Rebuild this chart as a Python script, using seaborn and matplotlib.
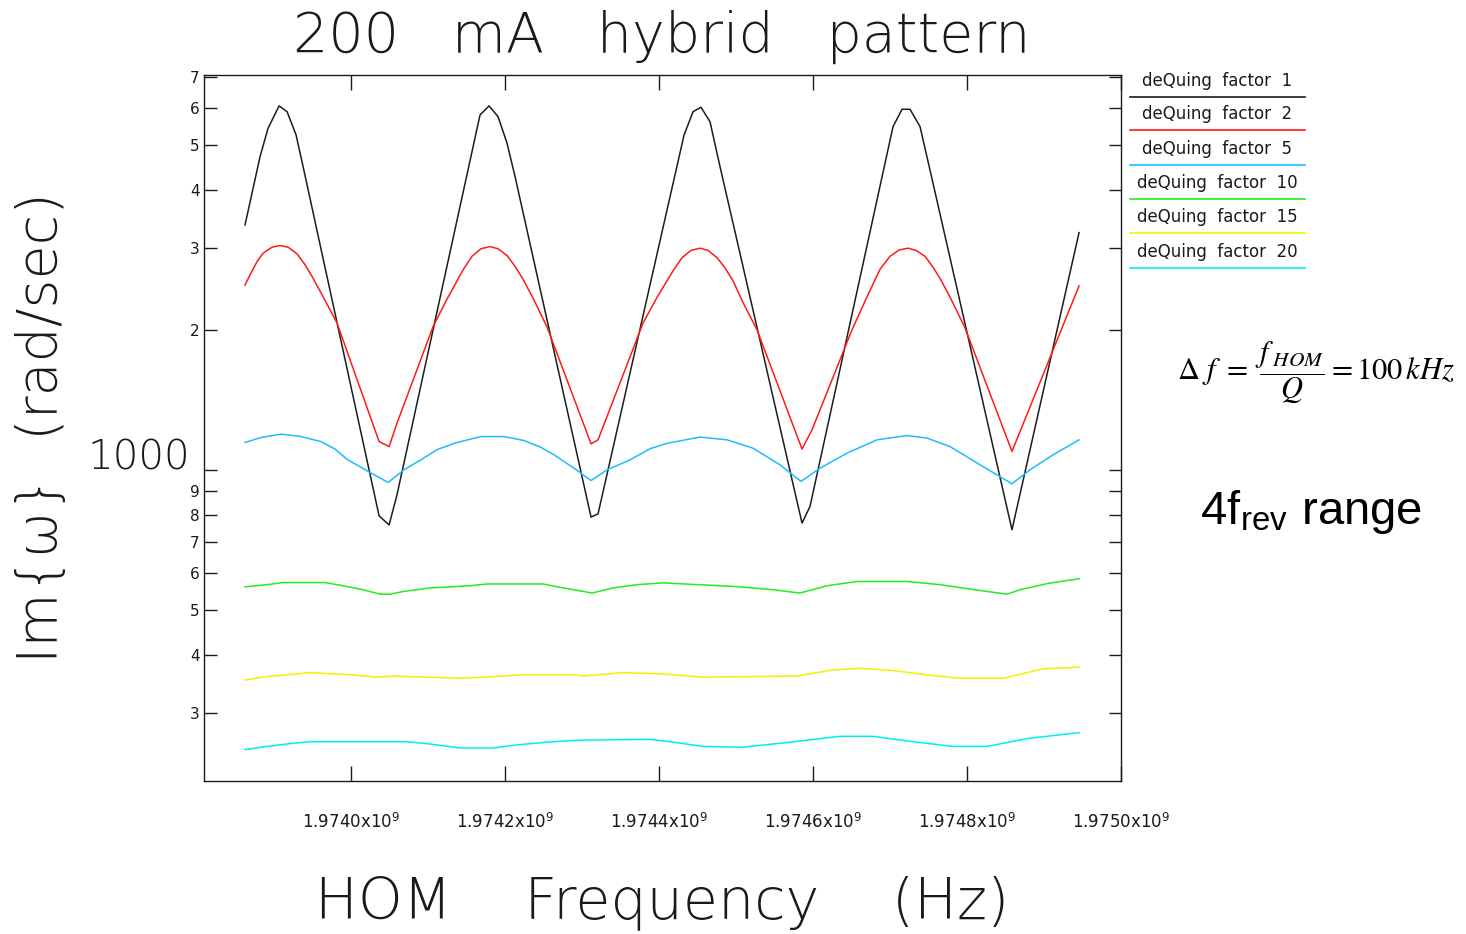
import numpy as np
import pandas as pd
import matplotlib
matplotlib.use("Agg")
import matplotlib.pyplot as plt
import matplotlib.transforms as mtransforms
from matplotlib.lines import Line2D
from matplotlib.ticker import NullLocator, FixedLocator, FixedFormatter
import seaborn as sns

# ---------------- data (frequency offsets in kHz from 1.9740 GHz) ----------------
F0_HZ = 1.9740e9

off_f1 = [-137.7, -118.2, -107.8, -93.5, -83.1, -71.4, -62.3, 36.4, 49.4, 59.7,
          167.5, 179.2, 190.9, 202.6, 213.0, 311.7, 320.8, 432.5, 444.2, 454.5,
          466.2, 479.2, 585.7, 596.1, 703.9, 715.6, 726.0, 739.0, 751.9, 858.4,
          945.5]
im_f1 = [3365, 4718, 5431, 6067, 5895, 5253, 4490, 796, 761, 884,
         5800, 6067, 5752, 5042, 4274, 791, 804, 5253, 5895, 6026,
         5610, 4490, 768, 834, 5474, 5966, 5966, 5474, 4417, 743,
         3238]

off_f2 = [-137.7, -131.2, -122.1, -114.3, -102.6, -92.2, -81.8, -70.1, -59.7, -49.4,
          -36.4, -18.2, 36.4, 49.4, 59.7, 106.5, 124.7, 145.5, 157.1, 168.8,
          180.5, 190.9, 202.6, 213.0, 223.4, 236.4, 254.5, 311.7, 320.8, 379.2,
          397.4, 418.2, 429.9, 441.6, 453.2, 463.6, 475.3, 485.7, 496.1, 509.1,
          527.3, 585.7, 598.7, 650.6, 668.8, 687.0, 700.0, 711.7, 723.4, 733.8,
          745.5, 755.8, 766.2, 779.2, 797.4, 858.4, 945.5]
im_f2 = [2499, 2627, 2805, 2924, 3013, 3037, 3013, 2914, 2760, 2584,
         2359, 2068, 1150, 1122, 1260, 2033, 2330, 2692, 2880, 2990,
         3022, 2990, 2890, 2740, 2570, 2340, 2030, 1137, 1160, 2068,
         2350, 2680, 2860, 2965, 2998, 2965, 2860, 2720, 2550, 2290,
         2000, 1108, 1219, 2000, 2330, 2700, 2880, 2970, 2998, 2965,
         2880, 2730, 2560, 2330, 2020, 1095, 2487]

off_f5 = [-137.7, -115.6, -90.9, -66.2, -39.0, -20.8, -5.2, 11.7, 26.0, 48.1,
          68.8, 90.9, 111.7, 137.7, 168.8, 198.7, 224.7, 245.5, 263.6, 289.6,
          311.7, 332.5, 362.3, 388.3, 410.4, 453.2, 488.3, 522.1, 557.1, 584.4,
          609.1, 644.2, 683.1, 722.1, 748.1, 777.9, 820.8, 858.4, 881.8, 911.7,
          945.5]
im_f5 = [1145, 1175, 1193, 1180, 1150, 1108, 1053, 1015, 984, 939,
         1000, 1051, 1105, 1145, 1179, 1179, 1156, 1120, 1077, 1008,
         948, 1000, 1050, 1110, 1140, 1176, 1160, 1113, 1025, 944,
         1008, 1086, 1160, 1185, 1170, 1122, 1016, 933, 1000, 1077,
         1160]

off_f10 = [-137.7, -109.1, -88.3, -33.8, -10.4, 15.6, 37.7, 50.6, 67.5, 102.6,
           154.5, 176.6, 249.4, 275.3, 297.4, 313.0, 340.3, 371.4, 405.2, 470.1,
           505.2, 548.1, 583.1, 618.2, 657.1, 722.1, 764.9, 816.9, 852.0, 868.8,
           903.9, 945.5]
im_f10 = [560, 566, 572, 572, 563, 552, 540, 540, 547, 557,
          563, 568, 568, 557, 549, 543, 557, 566, 571, 564,
          560, 552, 543, 563, 575, 575, 566, 550, 540, 552,
          569, 583]

off_f15 = [-137.7, -109.1, -53.2, -23.4, 2.6, 33.8, 54.5, 98.7, 145.5, 197.4,
           219.5, 293.5, 301.3, 353.2, 401.3, 457.1, 522.1, 579.2, 626.0, 661.0,
           703.9, 748.1, 790.9, 846.8, 898.7, 945.5]
im_f15 = [353, 359, 366, 364, 362, 358, 360, 358, 356, 360,
          362, 362, 360, 366, 364, 358, 359, 360, 371, 374,
          370, 362, 356, 356, 373, 376]

off_f20 = [-137.7, -109.1, -75.3, -53.2, 9.1, 24.7, 72.7, 102.6, 141.6, 184.4,
           215.6, 262.3, 297.4, 388.3, 414.3, 457.1, 509.1, 566.2, 635.1, 677.9,
           729.9, 781.8, 826.0, 877.9, 945.5]
im_f20 = [250, 254, 258, 260, 260, 260, 260, 257, 252, 252,
          256, 260, 262, 263, 260, 254, 253, 259, 267, 267,
          260, 254, 254, 264, 272]

series_names = ["deQuing factor 1", "deQuing factor 2", "deQuing factor 5",
                "deQuing factor 10", "deQuing factor 15", "deQuing factor 20"]
legend_labels = ["deQuing  factor  1", "deQuing  factor  2", "deQuing  factor  5",
                 "deQuing  factor  10", "deQuing  factor  15", "deQuing  factor  20"]
series_colors = ["#1c1c1c", "#ff1a1a", "#1ebcff", "#1fee1f", "#f2f200", "#00eeee"]

x_ticks = [1.9740e9, 1.9742e9, 1.9744e9, 1.9746e9, 1.9748e9, 1.9750e9]
x_tick_labels = [r"1.9740x10$^{\mathregular{9}}$", r"1.9742x10$^{\mathregular{9}}$",
                 r"1.9744x10$^{\mathregular{9}}$", r"1.9746x10$^{\mathregular{9}}$",
                 r"1.9748x10$^{\mathregular{9}}$", r"1.9750x10$^{\mathregular{9}}$"]
y_ticks = [300, 400, 500, 600, 700, 800, 900, 1000, 2000, 3000, 4000, 5000, 6000, 7000]
y_tick_labels = ["3", "4", "5", "6", "7", "8", "9", "", "2", "3", "4", "5", "6", "7"]

# ---------------- build long-form table ----------------
frames = []
for name, off, val in zip(series_names,
                          [off_f1, off_f2, off_f5, off_f10, off_f15, off_f20],
                          [im_f1, im_f2, im_f5, im_f10, im_f15, im_f20]):
    frames.append(pd.DataFrame({"freq": F0_HZ + np.asarray(off) * 1e3,
                                "im": val, "series": name}))
df = pd.concat(frames, ignore_index=True)

# ---------------- figure ----------------
plt.rcParams["mathtext.fontset"] = "stix"
HFONT = ["DejaVu Sans"]
TXT = "#1a1a1a"
W, H = 1466, 934

def fx(x):
    return x / W

def fy(y):
    return 1 - y / H

fig = plt.figure(figsize=(W / 100, H / 100), dpi=100)
fig.patch.set_facecolor("white")
ax = fig.add_axes([fx(204), fy(781), (1121 - 204) / W, (781 - 75) / H])

sns.lineplot(data=df, x="freq", y="im", hue="series", hue_order=series_names,
             palette=dict(zip(series_names, series_colors)), estimator=None,
             sort=False, linewidth=1.1, legend=False, ax=ax)

ax.set_yscale("log")
ax.set_xlim(1.973809e9, 1.9750e9)
ax.set_ylim(214, 7070)
ax.set_xlabel("")
ax.set_ylabel("")

ax.yaxis.set_major_locator(FixedLocator(y_ticks))
ax.yaxis.set_major_formatter(FixedFormatter(y_tick_labels))
ax.yaxis.set_minor_locator(NullLocator())
ax.xaxis.set_major_locator(FixedLocator(x_ticks))
ax.xaxis.set_major_formatter(FixedFormatter(x_tick_labels))
ax.xaxis.set_minor_locator(NullLocator())

ax.tick_params(axis="y", which="major", direction="in", length=9, width=1.0,
               left=True, right=True, labelsize=11, pad=3, colors=TXT)
ax.tick_params(axis="x", which="major", direction="in", length=10.5, width=1.0,
               bottom=True, top=True, labelsize=12, pad=23, colors=TXT)
for lab in ax.get_xticklabels() + ax.get_yticklabels():
    lab.set_family(HFONT)
for sp in ax.spines.values():
    sp.set_linewidth(1.0)
    sp.set_color(TXT)
ax.grid(False)
ax.set_facecolor("white")

# big decade label
trans = mtransforms.blended_transform_factory(ax.transAxes, ax.transData)
ax.text(-0.015, 1000, "1000", transform=trans, ha="right", va="baseline",
        fontsize=29, family=HFONT, fontweight="light", color=TXT)

# titles
fig.text(fx(662), fy(52), "200   mA   hybrid   pattern", ha="center", va="baseline",
         fontsize=40, family=HFONT, fontweight="light", color=TXT)
fig.text(fx(662), fy(918), "HOM    Frequency    (Hz)", ha="center", va="baseline",
         fontsize=41, family=HFONT, fontweight="light", color=TXT)
fig.text(fx(42), fy(428), "Im{\u03c9}  (rad/sec)", ha="center", va="center",
         rotation=90, fontsize=40, family=HFONT, fontweight="light", color=TXT)

# legend (text above coloured line)
line_ys = [97, 130, 165, 199, 233, 268]
for lab, col, ly in zip(legend_labels, series_colors, line_ys):
    fig.add_artist(Line2D([fx(1130), fx(1305)], [fy(ly), fy(ly)], color=col, lw=1.2))
    fig.text(fx(1217.5), fy(ly - 16), lab, ha="center", va="center", fontsize=12,
             family=HFONT, color=TXT)

# annotations
fig.text(fx(1177), fy(372), r"$\Delta\ f\ =\ \dfrac{f_{\ HOM}}{Q}=100\,kHz$",
         ha="left", va="center", fontsize=22, color="black")
fig.text(fx(1200), fy(512), r"4f$_{\mathregular{rev}}$ range", ha="left", va="center",
         fontsize=34, family=["Liberation Sans"], color="black")

fig.savefig("out.png", dpi=100, facecolor="white")
